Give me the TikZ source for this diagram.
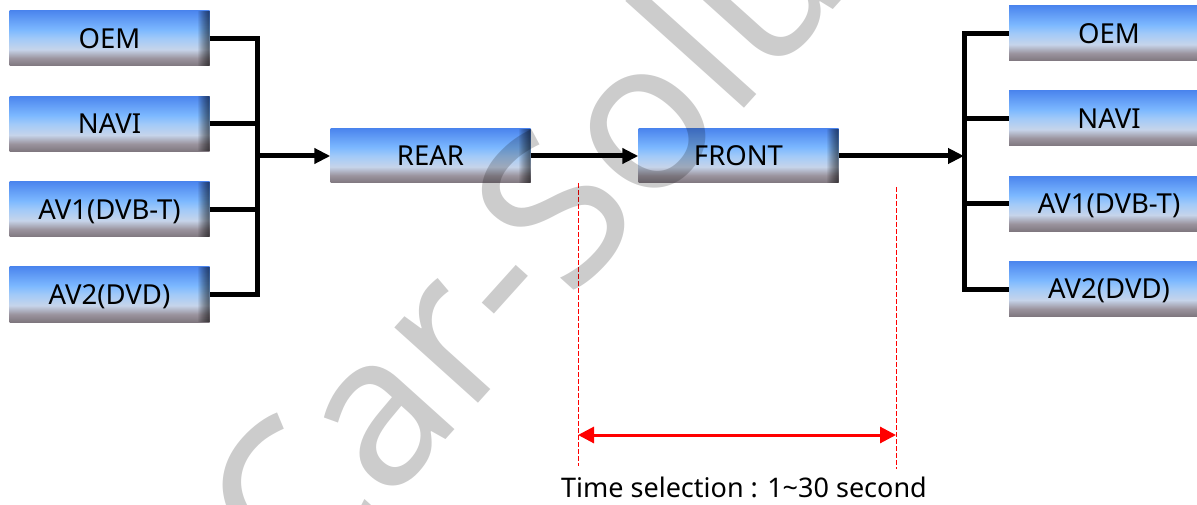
\documentclass[tikz,border=0pt]{standalone}
\usepackage{fontspec}
\setmainfont{Noto Sans}
\usetikzlibrary{arrows.meta}
\definecolor{bA}{HTML}{4C86EE}
\definecolor{bB}{HTML}{7CB8FF}
\definecolor{bC}{HTML}{A2CAF8}
\definecolor{bD}{HTML}{C6D4EA}
\definecolor{bE}{HTML}{9B949E}
\definecolor{bF}{HTML}{7E767E}
\definecolor{redline}{HTML}{FF0000}
\pgfdeclareverticalshading{boxshade}{100bp}{color(0bp)=(bF); color(25bp)=(bF); color(32bp)=(bE); color(40bp)=(bD); color(50bp)=(bC); color(58bp)=(bB); color(75bp)=(bA); color(100bp)=(bA)}
\begin{document}
\begin{tikzpicture}[x=1pt,y=-1pt,
  box/.style={shading=boxshade, minimum width=200pt, minimum height=55pt, inner sep=0pt,
    text height=19.3pt, text depth=0pt, font=\fontsize{27.5}{30}\selectfont,
    path picture={\foreach \k in {1,...,12}{
      \fill[black, opacity=0.06]
      ([xshift=-\k pt]path picture bounding box.north east) rectangle (path picture bounding box.south east);}}},
  link/.style={line width=5pt, line join=miter},
  arr/.style={link, -{Triangle[length=16pt,width=15pt]}},
  reddash/.style={redline, line width=1pt, dash pattern=on 5pt off 2pt},
  span/.style={redline, line width=3pt, {Triangle[length=16pt,width=16pt]}-{Triangle[length=16pt,width=16pt]}},
  wm/.style={text=black, text opacity=0.2, font=\fontsize{210}{210}\selectfont, inner sep=0pt}
]
\useasboundingbox (0,0) rectangle (1197,505);
\clip (0,0) rectangle (1197,505);
% left sources
\node[box] (oemL) at (109.5,38.5) {OEM};
\node[box] (naviL) at (109.5,124) {NAVI};
\node[box] (av1L) at (109.5,209.5) {AV1(DVB-T)};
\node[box] (av2L) at (109.5,294.5) {AV2(DVD)};
% middle
\node[box, minimum height=54pt] (rear) at (430.5,156) {REAR};
\node[box, minimum height=54pt] (front) at (738.5,156) {FRONT};
% right outputs
\node[box] (oemR) at (1109,33.5) {OEM};
\node[box] (naviR) at (1109,118.5) {NAVI};
\node[box] (av1R) at (1109,204) {AV1(DVB-T)};
\node[box] (av2R) at (1109,289) {AV2(DVD)};
% left bus
\coordinate (lt) at (257,38.5);
\coordinate (lb) at (257,294.5);
\coordinate (lm) at (257,156);
\draw[link] (oemL.east) -- (lt) -- (lb) -- (av2L.east);
\draw[link] (naviL.east) -- (naviL.east -| lt);
\draw[link] (av1L.east) -- (av1L.east -| lt);
\draw[arr] (lm) -- (rear.west);
\draw[arr] (rear.east) -- (front.west);
% right bus
\coordinate (rt) at (964,33.5);
\coordinate (rb) at (964,289);
\coordinate (rm) at (964,156);
\draw[link] (oemR.west) -- (rt) -- (rb) -- (av2R.west);
\draw[link] (naviR.west) -- (naviR.west -| rt);
\draw[link] (av1R.west) -- (av1R.west -| rt);
\draw[arr] (front.east) -- (rm);
% time span
\coordinate (d1t) at (578,183);
\coordinate (d1b) at (578,466);
\coordinate (d2t) at (896,187);
\coordinate (d2b) at (896,469);
\draw[reddash] (d1t) -- (d1b);
\draw[reddash] (d2t) -- (d2b);
\coordinate (s1) at (578,435);
\coordinate (s2) at (896,435);
\draw[span] (s1) -- (s2);
\node[anchor=base, font=\fontsize{27}{30}\selectfont, inner sep=0pt] (time) at (744,497) {Time selection : 1\textasciitilde 30 second};
% watermark
\node[wm, rotate=48, anchor=base west] (mark) at (299,603) {Car-Solution};
\end{tikzpicture}
\end{document}
